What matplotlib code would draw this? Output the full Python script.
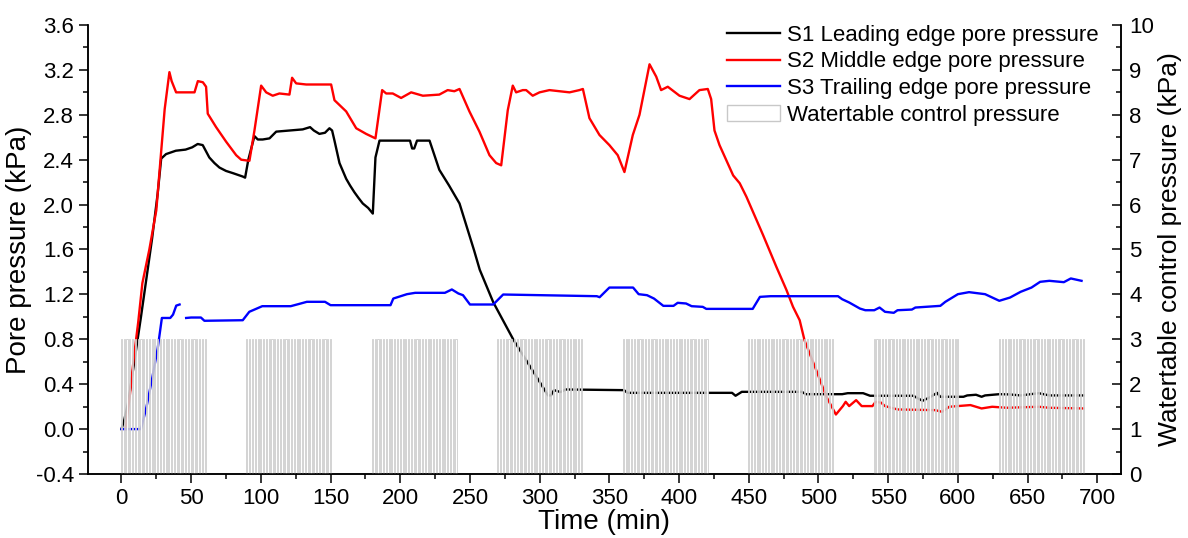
import numpy as np
import matplotlib
matplotlib.use("Agg")
import matplotlib.pyplot as plt
from matplotlib.ticker import MultipleLocator, FormatStrFormatter

plt.rcParams['font.family'] = ['Liberation Sans', 'DejaVu Sans']

# ---- S1 leading edge pore pressure (kPa) ----
s1_t = [0, 2, 5, 8, 11, 14, 18, 22, 26, 28.5, 32, 39, 46, 50.7, 54.7, 58.3, 63, 66.7, 70.3,
        75, 80, 87, 88.7, 91, 95.4, 97.8, 101.3, 106.2, 111, 120.5, 130, 135.3, 138, 142,
        146, 149.2, 151.1, 152.8, 156.4, 161.2, 164, 167.1, 170, 173.1, 177, 180.3, 182.2,
        185.1, 199.4, 207, 208.5, 210, 212, 214, 221, 228, 235, 242.5, 253, 257, 266.7,
        281, 293, 306, 308, 310.3, 315, 318.6, 360.5, 363, 438, 440.5, 445, 488, 491, 517,
        521, 532, 537, 568, 574.6, 579.7, 585, 587.4, 604, 606.7, 613, 617, 619.5, 629.7,
        637, 645, 658, 665.6, 690]
s1_p = [0.0, 0.08, 0.25, 0.5, 0.75, 1.0, 1.35, 1.7, 2.1, 2.41, 2.45, 2.48, 2.49, 2.51, 2.54,
        2.53, 2.42, 2.37, 2.33, 2.30, 2.28, 2.25, 2.24, 2.40, 2.61, 2.58, 2.58, 2.59, 2.65,
        2.66, 2.67, 2.69, 2.66, 2.63, 2.64, 2.68, 2.66, 2.57, 2.37, 2.23, 2.17, 2.11, 2.06,
        2.01, 1.97, 1.92, 2.42, 2.57, 2.57, 2.57, 2.50, 2.50, 2.57, 2.57, 2.57, 2.31, 2.17,
        2.01, 1.59, 1.42, 1.13, 0.80, 0.56, 0.30, 0.30, 0.347, 0.33, 0.353, 0.347, 0.323,
        0.323, 0.297, 0.332, 0.332, 0.311, 0.311, 0.32, 0.32, 0.297, 0.297, 0.252, 0.282,
        0.323, 0.288, 0.288, 0.30, 0.306, 0.288, 0.30, 0.311, 0.309, 0.30, 0.32, 0.30, 0.30]

# ---- S2 middle edge pore pressure (kPa) ----
s2_t = [3, 6, 9, 12, 15, 20, 25, 28, 31, 34.4, 36, 39.2, 45, 52.4, 54.8, 58.4, 60.7, 61.9,
        67.9, 75.1, 82.3, 85.9, 91.8, 95.4, 100.2, 103.8, 108.5, 113.3, 120.5, 122.4, 125.3,
        132.5, 150.4, 152.8, 161.2, 168.4, 175.5, 182.2, 187, 189.9, 194.6, 200.6, 207.8,
        216.2, 228, 234, 238.8, 242.5, 249.6, 256.8, 264, 268.8, 272.4, 277.1, 280.7, 283.1,
        287.9, 290.3, 295, 299.9, 307, 321.4, 328.5, 331, 335.7, 342.9, 350, 356, 360.8,
        366.8, 371.6, 378.8, 383.6, 387.1, 391.9, 400.3, 407.5, 414.6, 420.6, 423, 425.4,
        429, 438.8, 443.5, 448.3, 460.2, 469.8, 477, 481.7, 486.5, 490, 498.4, 505.6, 512.5,
        517.5, 519.5, 522, 527, 531, 538.7, 541, 545, 547.7, 556.7, 583.6, 588.7, 593.8,
        609, 617, 624.6, 635, 658, 665.6, 690]
s2_p = [0.0, 0.3, 0.65, 0.95, 1.3, 1.6, 1.95, 2.4, 2.85, 3.18, 3.1, 3.0, 3.0, 3.0, 3.10, 3.09,
        3.05, 2.81, 2.69, 2.56, 2.44, 2.40, 2.39, 2.66, 3.06, 3.0, 2.97, 2.99, 2.98, 3.13,
        3.08, 3.07, 3.07, 2.93, 2.83, 2.68, 2.63, 2.59, 3.02, 2.99, 2.99, 2.95, 3.0, 2.97,
        2.98, 3.02, 3.01, 3.03, 2.83, 2.65, 2.44, 2.37, 2.35, 2.84, 3.06, 3.0, 3.02, 3.02,
        2.97, 3.0, 3.02, 3.0, 3.02, 3.03, 2.77, 2.62, 2.53, 2.44, 2.29, 2.62, 2.80, 3.25,
        3.14, 3.02, 3.05, 2.97, 2.94, 3.02, 3.03, 2.94, 2.66, 2.53, 2.26, 2.19, 2.07, 1.73,
        1.445, 1.24, 1.09, 0.97, 0.79, 0.525, 0.29, 0.13, 0.205, 0.243, 0.205, 0.258, 0.205,
        0.205, 0.243, 0.235, 0.205, 0.175, 0.169, 0.154, 0.199, 0.214, 0.184, 0.199, 0.19,
        0.199, 0.19, 0.184]

# ---- S3 trailing edge pore pressure (kPa), gap = missing readings ----
s3_t = [0, 14, 18, 22, 26, 29, 35, 37, 39.3, 41.7, 44, 46.4, 50, 57, 59.5, 87, 91.7, 101,
        121.4, 128.6, 133, 146, 150, 193, 195, 204.8, 210.7, 232, 237, 241.7, 245, 250,
        266.7, 273.8, 341, 343, 350, 367, 371, 377, 382, 388.7, 396, 399, 405, 409, 417,
        419.5, 452.8, 458, 465.6, 514, 517, 522, 529.7, 533.6, 540, 543.8, 547.7, 554,
        556.7, 567, 569.5, 587.4, 591, 600, 608, 619.5, 629.7, 637.4, 645, 652.8, 659,
        665.6, 676, 681, 688.7]
s3_p = [0.0, 0.0, 0.2, 0.45, 0.72, 0.99, 0.99, 1.02, 1.10, 1.11, np.nan, 0.99, 0.994, 0.994,
        0.965, 0.97, 1.045, 1.095, 1.095, 1.119, 1.134, 1.134, 1.104, 1.104, 1.163, 1.202,
        1.214, 1.214, 1.244, 1.208, 1.193, 1.11, 1.11, 1.199, 1.184, 1.175, 1.261, 1.261,
        1.202, 1.193, 1.163, 1.098, 1.098, 1.125, 1.119, 1.095, 1.089, 1.071, 1.071, 1.178,
        1.184, 1.184, 1.157, 1.128, 1.074, 1.059, 1.059, 1.083, 1.045, 1.036, 1.059, 1.065,
        1.083, 1.098, 1.134, 1.202, 1.22, 1.202, 1.143, 1.172, 1.223, 1.261, 1.312, 1.321,
        1.309, 1.342, 1.321]

# ---- watertable control pressure cycles (right axis, kPa) ----
wt_start = [0, 90, 180, 270, 360, 450, 540, 630]   # min
wt_duration = 60                                     # min
wt_step = 2                                          # min between readings
wt_level = 3.0                                       # kPa

wt_t = np.concatenate([np.arange(s, s + wt_duration + 1, wt_step) for s in wt_start])
wt_p = np.full(wt_t.shape, wt_level)

fig = plt.figure(figsize=(11.88, 5.38), dpi=100)
ax = fig.add_axes([88 / 1188, 1 - 474 / 538, (1121 - 88) / 1188, (474 - 25) / 538])
ax2 = ax.twinx()

l1, = ax.plot(s1_t, s1_p, color='black', lw=1.7, label='S1 Leading edge pore pressure')
l2, = ax.plot(s2_t, s2_p, color='#ff0000', lw=1.7, label='S2 Middle edge pore pressure')
l3, = ax.plot(s3_t, s3_p, color='#0000ff', lw=1.7, label='S3 Trailing edge pore pressure')

# thin white bars with grey outlines, drawn over the pressure curves
bars = ax2.bar(wt_t, wt_p, width=0.8, color='white', edgecolor='#c8c8c8', linewidth=0.55,
               label='Watertable control pressure')

ax.set_xlim(-24, 717)
ax.set_ylim(-0.4, 3.6)
ax2.set_ylim(0, 10)

ax.xaxis.set_major_locator(MultipleLocator(50))
ax.xaxis.set_minor_locator(MultipleLocator(25))
ax.yaxis.set_major_locator(MultipleLocator(0.4))
ax.yaxis.set_minor_locator(MultipleLocator(0.2))
ax.yaxis.set_major_formatter(FormatStrFormatter('%.1f'))
ax2.yaxis.set_major_locator(MultipleLocator(1))
ax2.yaxis.set_minor_locator(MultipleLocator(0.5))

for a in (ax, ax2):
    a.spines['top'].set_visible(False)
    for s in a.spines.values():
        s.set_linewidth(1.1)
ax.tick_params(which='major', direction='out', length=6.5, width=1.1, labelsize=16)
ax.tick_params(which='minor', direction='out', length=3.5, width=1.1)
ax2.tick_params(which='major', direction='in', length=6.5, width=1.1, labelsize=16, pad=6)
ax2.tick_params(which='minor', direction='in', length=3.5, width=1.1)

ax.set_xlabel('Time (min)', fontsize=20, labelpad=0)
ax.set_ylabel('Pore pressure (kPa)', fontsize=20, labelpad=3)
ax2.set_ylabel('Watertable control pressure (kPa)', fontsize=19, labelpad=3)

leg = ax2.legend(handles=[l1, l2, l3, bars], loc='upper left', bbox_to_anchor=(0.61, 1.02),
                 frameon=False, fontsize=16, handlelength=2.4, handletextpad=0.3,
                 labelspacing=0.25, borderaxespad=0)
leg.legend_handles[3].set_linewidth(1.0)

fig.savefig('out.png', dpi=100)
